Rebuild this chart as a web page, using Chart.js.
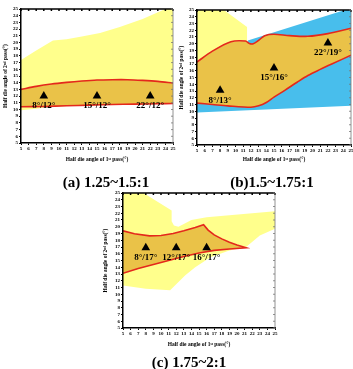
<!DOCTYPE html>
<html lang="en">
<head>
  <meta charset="UTF-8" />
  <title>Die angle windows</title>
  <script src="https://cdn.jsdelivr.net/npm/chart.js"></script>
  <style>
    body { margin: 0; width: 353px; height: 369px; overflow: hidden; background: #fff; position: relative; font-family: 'Liberation Serif', serif; }
    canvas { position: absolute; }
    .cap { position: absolute; font-weight: bold; font-size: 15px; line-height: 16px; white-space: nowrap; transform: translateX(-50%); }
  </style>
</head>
<body>
  <canvas id="chartA" width="185" height="168" style="left:0;top:0"></canvas>
  <canvas id="chartB" width="190" height="168" style="left:176px;top:0"></canvas>
  <canvas id="chartC" width="190" height="170" style="left:100px;top:185px"></canvas>
  <div class="cap" style="left:106px;top:174px">(a) 1.25~1.5:1</div>
  <div class="cap" style="left:272px;top:174px">(b)1.5~1.75:1</div>
  <div class="cap" style="left:189px;top:354px">(c) 1.75~2:1</div>

  <script>
const axisTicks = [5, 6, 7, 8, 9, 10, 11, 12, 13, 14, 15, 16, 17, 18, 19, 20, 21, 22, 23, 24, 25];
const xTitle = 'Half die angle of 1ˢᵗ pass(°)';
const yTitle = 'Half die angle of 2ⁿᵈ pass(°)';

// (a) 1.25~1.5:1
const aYellow = [[5,17.4],[7,18.8],[9.2,20.3],[11,20.5],[13,20.9],[15.4,21.4],[18,22.3],[21,23.5],[24,25],[25,25],
                 [25,10.85],[15,10.65],[9,10.45],[7,10.1],[5,9.9]];
const aTop = [[5,13.0],[7,13.45],[9,13.8],[11,14.05],[13,14.25],[15,14.4],[17,14.45],[19,14.45],[21,14.35],[23,14.2],[25,13.95]];
const aBottom = [[5,10.4],[8,10.45],[11,10.55],[14,10.65],[17,10.75],[20,10.8],[23,10.85],[25,10.9]];
const aMarkX = [8, 15, 22];
const aMarkY = [12, 12, 12];
const aMarkText = ['8°/12°', '15°/12°', '22°/12°'];

// (b) 1.5~1.75:1
const bYellow = [[5,25],[8.5,25],[11.5,22.5],[11.5,20.2],[9.4,20.2],[5,17.2]];
const bBlue = [[5,9.8],[25,10.8],[25,25],[24.2,25],[11.6,20.5],[11.6,12],[5,11.3]];
const bTop = [[5,17.3],[7,18.9],[9.4,20.3],[11.3,20.4],[11.8,20.05],[12.3,20.0],[13,20.5],[13.8,21.2],[15,21.4],[17,21.2],[19.4,21.1],[22,21.5],[25,22.3]];
const bBottom = [[5,11.2],[7,11.0],[9,10.8],[12,10.6],[13,10.8],[14,11.3],[15,12.1],[16.4,13.1],[18,14.3],[19.4,15.3],[21,16.2],[22.5,17.0],[25,18.3]];
const bMarkX = [8, 15, 22];
const bMarkY = [13.1, 16.4, 20.1];
const bMarkText = ['8°/13°', '15°/16°', '22°/19°'];

// (c) 1.75~2:1
const cYellow = [[5,25],[7.7,25],[11.4,22.4],[11.4,20.8],[11.7,20.2],[12.3,20.0],[13,20.4],[14,21.0],[16,21.4],[19,21.7],[22,22.0],[25,22.3],
                 [25,19.7],[23,18.7],[21.2,17.0],[19,16.5],[16.5,15.5],[14.5,14.0],[13.2,12.8],[12,11.5],[11.2,10.6],[8,10.8],[5,11.3]];
const cTop = [[5,19.4],[6.5,18.95],[8.5,18.65],[10,18.7],[11.6,19.0],[13,19.4],[14.5,19.9],[15.6,20.3],
              [16.2,19.5],[17,18.8],[18,18.2],[19,17.7],[20,17.3],[21.2,16.9]];
const cBottom = [[5,13.1],[7,13.8],[9,14.4],[11,15.0],[13,15.6],[15,16.1],[17,16.5],[19,16.7],[21.2,16.9]];
const cMarkX = [8, 12, 16];
const cMarkY = [16.9, 16.9, 16.9];
const cMarkText = ['8°/17°', '12°/17°', '16°/17°'];

const YELLOW = 'rgb(255,255,140)';
const ORANGE = 'rgb(234,194,72)';
const BLUE = 'rgb(72,190,236)';
const RED = 'rgb(228,40,28)';

function pts(list) {
  return list.map(p => ({ x: p[0], y: p[1] }));
}

function area(list, color, order) {
  return { data: pts(list), backgroundColor: color, borderWidth: 0, pointRadius: 0, fill: 'shape', tension: 0, order: order };
}

function curve(list) {
  return { data: pts(list), borderColor: RED, borderWidth: 1.6, pointRadius: 0, fill: false, tension: 0.3, order: 2 };
}

function markers(xs, ys, texts) {
  return {
    data: xs.map((x, i) => ({ x: x, y: ys[i] })),
    showLine: false, pointStyle: 'triangle', pointRadius: 5,
    backgroundColor: '#000', borderColor: '#000', borderWidth: 0,
    order: 1, markText: texts
  };
}

// frame on top and right, with inward ticks
const framePlugin = {
  id: 'frame',
  afterDraw(chart) {
    const { ctx, chartArea: a, scales } = chart;
    ctx.save();
    ctx.strokeStyle = '#000';
    ctx.lineWidth = 1.5;
    ctx.beginPath();
    ctx.moveTo(a.left, a.top);
    ctx.lineTo(a.right, a.top);
    axisTicks.forEach(v => {
      const px = scales.x.getPixelForValue(v);
      ctx.moveTo(px, a.top);
      ctx.lineTo(px, a.top + 2);
    });
    ctx.stroke();
    ctx.strokeStyle = '#777';
    ctx.lineWidth = 0.8;
    ctx.beginPath();
    ctx.moveTo(a.right, a.top);
    ctx.lineTo(a.right, a.bottom);
    axisTicks.forEach(v => {
      const py = scales.y.getPixelForValue(v);
      ctx.moveTo(a.right, py);
      ctx.lineTo(a.right - 2, py);
    });
    ctx.stroke();
    ctx.restore();
  }
};

// text under each triangle
const markTextPlugin = {
  id: 'markText',
  afterDatasetsDraw(chart) {
    const ctx = chart.ctx;
    ctx.save();
    ctx.font = 'bold 9px "Liberation Serif"';
    ctx.fillStyle = '#000';
    ctx.textAlign = 'center';
    ctx.textBaseline = 'middle';
    chart.data.datasets.forEach((ds, i) => {
      if (!ds.markText) return;
      chart.getDatasetMeta(i).data.forEach((el, j) => {
        ctx.fillText(ds.markText[j], el.x, el.y + 10);
      });
    });
    ctx.restore();
  }
};

function makeChart(id, datasets, box) {
  const tickFont = { family: 'Liberation Serif', size: 5, weight: 'bold' };
  const titleFont = { family: 'Liberation Serif', size: 5.5, weight: 'bold' };
  const setTicks = scale => { scale.ticks = axisTicks.map(v => ({ value: v })); };
  new Chart(document.getElementById(id), {
    type: 'line',
    data: { datasets: datasets },
    options: {
      responsive: false,
      animation: false,
      layout: { padding: { top: box.top, right: box.right, left: box.left, bottom: box.bottom } },
      plugins: { legend: { display: false }, tooltip: { enabled: false } },
      scales: {
        x: {
          type: 'linear', min: 5, max: 25,
          afterBuildTicks: setTicks,
          afterFit: s => { s.height = box.xh; },
          ticks: { font: tickFont, color: '#000', autoSkip: false, maxRotation: 0, padding: 1 },
          grid: { drawOnChartArea: false, tickLength: 2, tickColor: '#000' },
          border: { color: '#000', width: 1.5, z: 1 },
          title: { display: true, text: xTitle, font: titleFont, color: '#000', padding: 0 }
        },
        y: {
          type: 'linear', min: 5, max: 25,
          afterBuildTicks: setTicks,
          afterFit: s => { s.width = box.yw; },
          ticks: { font: tickFont, color: '#000', autoSkip: false, padding: 1 },
          grid: { drawOnChartArea: false, tickLength: 2, tickColor: '#000' },
          border: { color: '#000', width: 1.5, z: 1 },
          title: { display: true, text: yTitle, font: titleFont, color: '#000', padding: 0 }
        }
      }
    },
    plugins: [framePlugin, markTextPlugin]
  });
}

makeChart('chartA', [
  area(aYellow, YELLOW, 6),
  area(aTop.concat(aBottom.slice().reverse()), ORANGE, 4),
  curve(aTop),
  curve(aBottom),
  markers(aMarkX, aMarkY, aMarkText)
], { top: 9, right: 12, left: 2, bottom: 5, yw: 19, xh: 20 });

makeChart('chartB', [
  area(bYellow, YELLOW, 6),
  area(bBlue, BLUE, 5),
  area(bTop.concat(bBottom.slice().reverse()), ORANGE, 4),
  curve(bTop),
  curve(bBottom),
  markers(bMarkX, bMarkY, bMarkText)
], { top: 10, right: 15, left: 2, bottom: 5, yw: 19, xh: 18 });

const cShape = area(cTop.concat(cBottom.slice().reverse()), ORANGE, 4);
cShape.borderColor = RED;
cShape.borderWidth = 1.6;

makeChart('chartC', [
  area(cYellow, YELLOW, 6),
  cShape,
  markers(cMarkX, cMarkY, cMarkText)
], { top: 8, right: 15, left: 2, bottom: 7, yw: 21, xh: 20 });
  </script>
</body>
</html>
